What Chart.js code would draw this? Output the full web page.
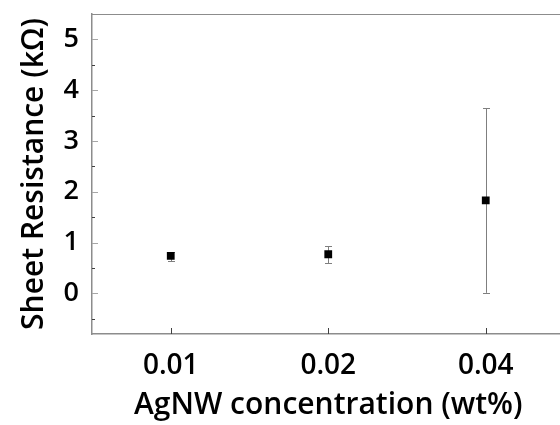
<!DOCTYPE html>
<html>
<head>
<meta charset="utf-8">
<script src="https://cdn.jsdelivr.net/npm/chart.js@4"></script>
<style>
  body { margin: 0; overflow: hidden; background: #fff; }
  #wrap { width: 570px; height: 425px; }
</style>
</head>
<body>
<div id="wrap"><canvas id="chart" width="570" height="425"></canvas></div>
<script>
// data
const concentrations = ['0.01', '0.02', '0.04'];
const resistance = [0.74, 0.77, 1.83];   // kOhm
const errUp = [0.07, 0.16, 1.81];
const errDown = [0.11, 0.18, 1.82];
const yTicks = [0, 1, 2, 3, 4, 5];
const yMinorTicks = [-0.5, 0.5, 1.5, 2.5, 3.5, 4.5];

const fontFamily = "'Open Sans', 'DejaVu Sans', sans-serif";

// error bars, inward tick marks and the top frame line
const decorations = {
    id: 'decorations',
    beforeDatasetsDraw(chart) {
        const ctx = chart.ctx;
        const x = chart.scales.x;
        const y = chart.scales.y;
        ctx.save();
        ctx.strokeStyle = '#7f7f7f';
        ctx.lineWidth = 1;
        resistance.forEach((v, i) => {
            const px = Math.round(x.getPixelForValue(i)) + 0.5;
            const top = y.getPixelForValue(v + errUp[i]);
            const bot = y.getPixelForValue(v - errDown[i]);
            ctx.beginPath();
            ctx.moveTo(px, top);
            ctx.lineTo(px, bot);
            ctx.moveTo(px - 3.5, Math.round(top) + 0.5);
            ctx.lineTo(px + 3.5, Math.round(top) + 0.5);
            ctx.moveTo(px - 3.5, Math.round(bot) + 0.5);
            ctx.lineTo(px + 3.5, Math.round(bot) + 0.5);
            ctx.stroke();
        });
        ctx.restore();
    },
    afterDraw(chart) {
        const ctx = chart.ctx;
        const area = chart.chartArea;
        const x = chart.scales.x;
        const y = chart.scales.y;
        ctx.save();
        ctx.lineWidth = 1;
        // top frame
        ctx.strokeStyle = '#8c8c8c';
        ctx.beginPath();
        ctx.moveTo(area.left, area.top + 0.5);
        ctx.lineTo(area.right, area.top + 0.5);
        ctx.stroke();
        // major y ticks
        ctx.strokeStyle = '#a6a6a6';
        ctx.beginPath();
        y.ticks.forEach(t => {
            const py = Math.round(y.getPixelForValue(t.value)) + 0.5;
            ctx.moveTo(area.left, py);
            ctx.lineTo(area.left + 6, py);
        });
        ctx.stroke();
        // minor y ticks
        ctx.strokeStyle = '#404040';
        ctx.beginPath();
        yMinorTicks.forEach(v => {
            const py = Math.round(y.getPixelForValue(v)) + 0.5;
            ctx.moveTo(area.left, py);
            ctx.lineTo(area.left + 3, py);
        });
        ctx.stroke();
        // x ticks
        ctx.strokeStyle = '#404040';
        ctx.beginPath();
        concentrations.forEach((c, i) => {
            const px = Math.round(x.getPixelForValue(i)) + 0.5;
            ctx.moveTo(px, area.bottom);
            ctx.lineTo(px, area.bottom - 6);
        });
        ctx.stroke();
        ctx.restore();
    }
};

new Chart(document.getElementById('chart'), {
    type: 'line',
    data: {
        labels: concentrations,
        datasets: [{
            data: resistance,
            showLine: false,
            pointStyle: 'rect',
            pointRadius: 5.5,
            pointBackgroundColor: '#000',
            pointBorderColor: '#000',
            pointBorderWidth: 0
        }]
    },
    options: {
        responsive: false,
        animation: false,
        layout: { padding: { left: 0, right: 4, top: 14, bottom: 0 } },
        plugins: {
            legend: { display: false },
            tooltip: { enabled: false }
        },
        scales: {
            x: {
                type: 'category',
                offset: true,
                grid: { drawOnChartArea: false, drawTicks: false },
                border: { color: '#8c8c8c', width: 1.5 },
                ticks: { color: '#000', padding: 15, font: { family: fontFamily, size: 28, weight: '600' } },
                title: {
                    display: true,
                    text: 'AgNW concentration (wt%)',
                    color: '#000',
                    font: { family: fontFamily, size: 30, weight: '600' },
                    padding: { top: 0, bottom: 2 }
                },
                afterFit: s => {
                    s.height = 91;
                    s.paddingLeft = 0;
                    s.paddingRight = 0;
                }
            },
            y: {
                min: -0.8,
                max: 5.5,
                grid: { drawOnChartArea: false, drawTicks: false },
                border: { color: '#8c8c8c', width: 1.5 },
                afterBuildTicks: s => { s.ticks = yTicks.map(v => ({ value: v })); },
                ticks: { color: '#000', padding: 13, font: { family: fontFamily, size: 27, weight: '600' } },
                title: {
                    display: true,
                    text: 'Sheet Resistance (kΩ)',
                    color: '#000',
                    font: { family: fontFamily, size: 30, weight: '600' },
                    padding: { top: 16, bottom: 0 }
                },
                afterFit: s => {
                    s.width = 92;
                    s.paddingTop = 0;
                    s.paddingBottom = 0;
                }
            }
        }
    },
    plugins: [decorations]
});
</script>
</body>
</html>
